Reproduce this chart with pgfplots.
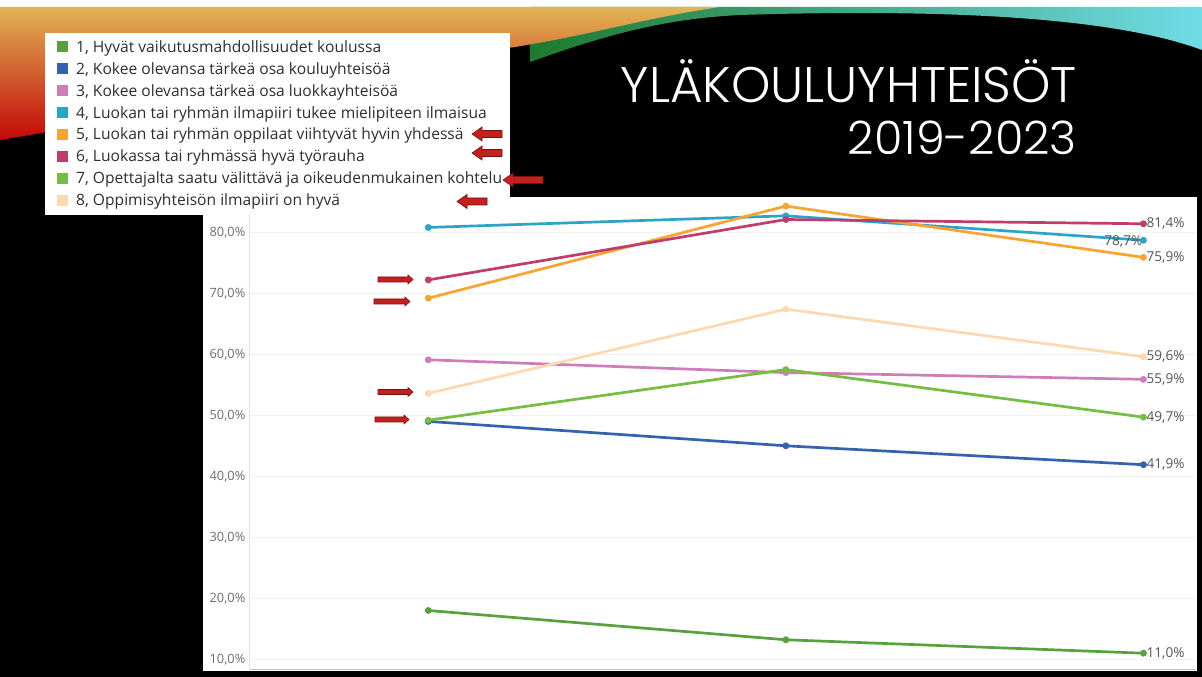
\documentclass[border=0pt]{standalone}
\usepackage{graphicx}
\usepackage{pgfplots}
\pgfplotsset{compat=1.18}
\usepackage{fontspec}
\setmainfont{Open Sans}
\newfontfamily\titlefont{Poppins}[UprightFont=* Light]
\definecolor{c1}{HTML}{58A13E}
\definecolor{c2}{HTML}{3562AE}
\definecolor{c3}{HTML}{CF7DB8}
\definecolor{c4}{HTML}{2AA5C8}
\definecolor{c5}{HTML}{F9A431}
\definecolor{c6}{HTML}{C03C6C}
\definecolor{c7}{HTML}{76BE43}
\definecolor{c8}{HTML}{FCD9B0}
\definecolor{legtext}{HTML}{2E2E2E}
\definecolor{ticktext}{HTML}{6E6E6E}
\definecolor{labtext}{HTML}{555555}
\definecolor{arrowred}{HTML}{C4201E}
\definecolor{arrowdark}{HTML}{7A1010}
\definecolor{gold}{HTML}{E2B455}
\definecolor{warmmid}{HTML}{E8701E}
\definecolor{warmred}{HTML}{C20808}
\definecolor{swgreen}{HTML}{1E7A2E}
\definecolor{swcyan}{HTML}{6FDCE6}
% tip x, tip y (tikz), length, body half-height, head half-height, head length, direction (1 right, -1 left)
\newcommand\blockarrow[7]{%
  \filldraw[fill=arrowred, draw=arrowdark, line width=0.6pt]
  (#1,#2) -- ++({-#7*#6},{#5}) -- ++(0,{#4-#5}) -- ++({-#7*(#3-#6)},0)
  -- ++(0,{-2*#4}) -- ++({#7*(#3-#6)},0) -- ++(0,{#4-#5}) -- cycle;}
\newcommand\legentry[3]{%
  \fill[#2] (57,{677-(#1)-5.5}) rectangle ++(11,11);
  \node[anchor=base west, inner sep=0pt, text=legtext,
        font=\fontsize{15.6}{18}\selectfont] at (76,{677-(#1)-5.5}) {#3};}
\begin{document}
\begin{tikzpicture}[x=1pt,y=1pt]
\path[use as bounding box] (0,0) rectangle (1202,677);
\fill[black] (0,0) rectangle (1202,677);
% top swoosh
\fill[white] (0,670) rectangle (1202,677);
\shade[left color=swgreen, right color=swcyan]
  (530,615) .. controls (600,640) and (660,658) .. (740,662)
  .. controls (900,667) and (1100,665) .. (1202,627) -- (1202,670) -- (530,670) -- cycle;
\shade[top color=gold, middle color=warmmid, bottom color=warmred]
  (0,537) .. controls (200,570) and (400,615) .. (515,630)
  .. controls (590,642) and (650,660) .. (720,670) -- (0,670) -- cycle;
% chart panel
\fill[white] (203,6) rectangle (1197,480);
\begin{axis}[
  at={(249.5pt,8pt)}, anchor=south west,
  width=946.5pt, height=472pt, scale only axis,
  xmin=-0.5, xmax=2.147, ymin=8.41, ymax=85.79,
  axis x line*=bottom, axis y line*=left,
  x axis line style={draw=black!25, line width=0.8pt, -},
  y axis line style={draw=black!12, line width=0.8pt, -},
  xtick=\empty,
  ytick={10,20,30,40,50,60,70,80},
  yticklabels={{10,0\%},{20,0\%},{30,0\%},{40,0\%},{50,0\%},{60,0\%},{70,0\%},{80,0\%}},
  yticklabel style={font=\fontsize{12.8}{14}\selectfont, text=ticktext, anchor=east, inner sep=0pt, xshift=-4pt},
  major tick length=0pt,
  ymajorgrids, grid style={draw=black!5, line width=0.8pt},
  clip=false,
  every axis plot/.append style={line width=2.7pt, mark=*, mark size=2pt},
]
\addplot[c1] coordinates {(0,18.0) (1,13.2) (2,11.0)};
\addplot[c2] coordinates {(0,49.0) (1,45.0) (2,41.9)};
\addplot[c3] coordinates {(0,59.1) (1,57.0) (2,55.9)};
\addplot[c4] coordinates {(0,80.8) (1,82.7) (2,78.7)};
\addplot[c5] coordinates {(0,69.2) (1,84.3) (2,75.9)};
\addplot[c6] coordinates {(0,72.2) (1,82.1) (2,81.4)};
\addplot[c7] coordinates {(0,49.2) (1,57.5) (2,49.7)};
\addplot[c8] coordinates {(0,53.6) (1,67.4) (2,59.6)};
\begin{scope}[every node/.style={font=\fontsize{13.6}{15}\selectfont, text=labtext, inner sep=0pt}]
\node[anchor=west, xshift=3pt] at (axis cs:2,81.4) {81,4\%};
\node[anchor=east, xshift=-1pt, yshift=-1.5pt] at (axis cs:2,78.7) {78,7\%};
\node[anchor=west, xshift=3pt] at (axis cs:2,75.9) {75,9\%};
\node[anchor=west, xshift=3pt] at (axis cs:2,59.6) {59,6\%};
\node[anchor=west, xshift=3pt] at (axis cs:2,55.9) {55,9\%};
\node[anchor=west, xshift=3pt] at (axis cs:2,49.7) {49,7\%};
\node[anchor=west, xshift=3pt] at (axis cs:2,41.9) {41,9\%};
\node[anchor=west, xshift=3pt] at (axis cs:2,11.0) {11,0\%};
\end{scope}
\end{axis}
% legend panel
\fill[white] (45,462) rectangle (510,644);
\legentry{47}{c1}{1, Hyvät vaikutusmahdollisuudet koulussa}
\legentry{69}{c2}{2, Kokee olevansa tärkeä osa kouluyhteisöä}
\legentry{91}{c3}{3, Kokee olevansa tärkeä osa luokkayhteisöä}
\legentry{113}{c4}{4, Luokan tai ryhmän ilmapiiri tukee mielipiteen ilmaisua}
\legentry{134.5}{c5}{5, Luokan tai ryhmän oppilaat viihtyvät hyvin yhdessä}
\legentry{156.5}{c6}{6, Luokassa tai ryhmässä hyvä työrauha}
\legentry{178.5}{c7}{7, Opettajalta saatu välittävä ja oikeudenmukainen kohtelu}
\legentry{200.5}{c8}{8, Oppimisyhteisön ilmapiiri on hyvä}
% legend arrows (pointing left)
\blockarrow{472}{543}{30}{3.5}{7}{10}{-1}
\blockarrow{472}{524}{30}{3.5}{7}{10}{-1}
\blockarrow{503}{497}{40}{3.5}{7}{10}{-1}
\blockarrow{457}{475.5}{30}{3.5}{7}{10}{-1}
% chart arrows (pointing right)
\blockarrow{413}{397.5}{35}{2.5}{4.5}{5}{1}
\blockarrow{410}{375.5}{36}{2.5}{4.5}{5}{1}
\blockarrow{413}{285}{35}{2.5}{4.5}{5}{1}
\blockarrow{409}{257.5}{34}{2.5}{4.5}{5}{1}
% title
\node[anchor=base east, inner sep=0pt, text=white, font=\titlefont\fontsize{50}{60}\selectfont]
  at (1077,574) {\resizebox{456pt}{\height}{YLÄKOULUYHTEISÖT}};
\node[anchor=base east, inner sep=0pt, text=white, font=\titlefont\fontsize{46}{55}\selectfont]
  at (1077,522) {\resizebox{229pt}{\height}{2019-2023}};
\end{tikzpicture}
\end{document}
